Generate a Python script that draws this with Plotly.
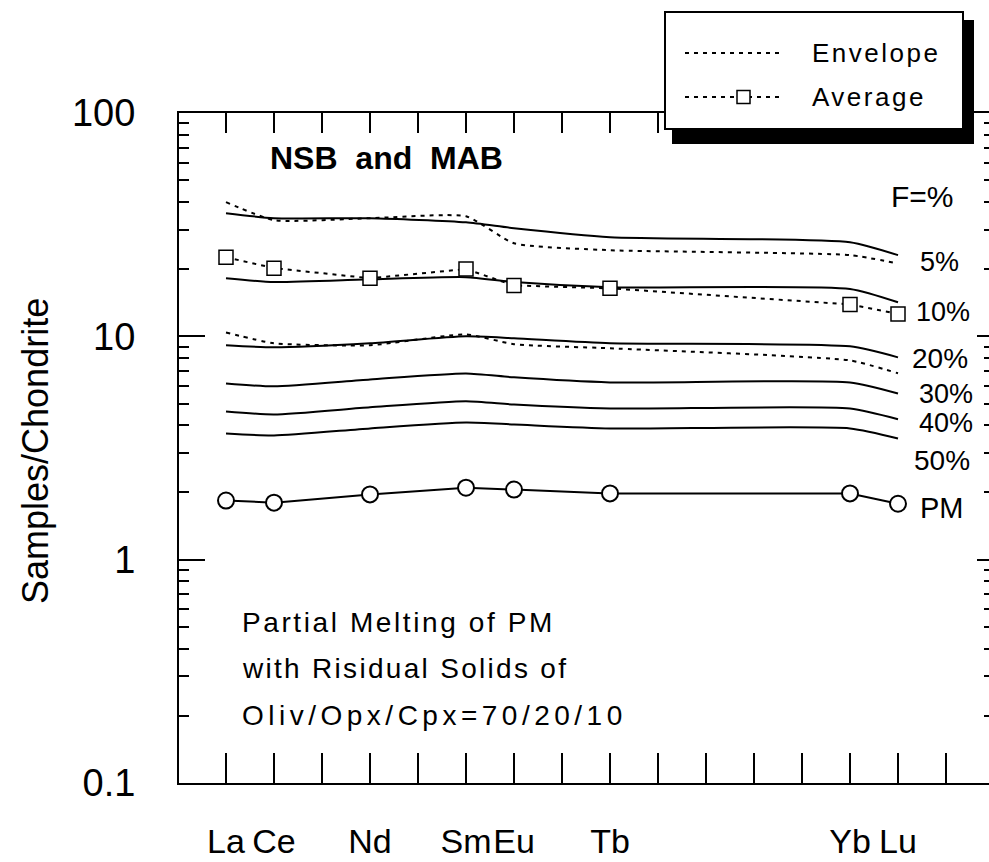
import plotly.graph_objects as go

# ---------------- data ----------------
shown_labels = ["La", "Ce", "", "Nd", "", "Sm", "Eu", "", "Tb", "", "", "", "", "Yb", "Lu", ""]
tick_pos = list(range(1, 17))

ree = ["La", "Ce", "Nd", "Sm", "Eu", "Tb", "Yb", "Lu"]
ree_x = [1, 2, 4, 6, 7, 9, 14, 15]

f5 = [35.6, 33.8, 33.8, 32.4, 30.5, 27.8, 26.4, 23.1]
f10 = [18.2, 17.5, 18.0, 18.4, 17.5, 16.6, 16.3, 14.2]
f20 = [9.12, 8.93, 9.31, 10.0, 9.80, 9.31, 9.02, 8.05]
f30 = [6.15, 5.97, 6.41, 6.82, 6.55, 6.22, 6.22, 5.55]
f40 = [4.61, 4.47, 4.81, 5.12, 4.95, 4.75, 4.75, 4.25]
f50 = [3.67, 3.60, 3.87, 4.11, 4.03, 3.87, 3.87, 3.49]

env_upper = [39.9, 33.1, 33.8, 34.5, 26.1, 24.3, 23.1, 21.2]
env_lower = [10.4, 9.31, 9.12, 10.2, 9.22, 8.84, 7.80, 6.83]
average = [22.6, 20.2, 18.2, 20.0, 16.9, 16.4, 13.9, 12.6]
pm = [1.84, 1.80, 1.96, 2.10, 2.06, 1.98, 1.98, 1.78]

y_tickvals = [0.1, 1, 10, 100]
y_ticktext = ["0.1", "1", "10", "100"]
y_minor = [k * 10 ** e for e in (-1, 0, 1) for k in range(2, 10)]

# ---------------- layout geometry helpers ----------------
W, H = 989, 862
ML, MR, MT, MB = 179, 0, 113, 79
PW, PH = W - ML - MR, H - MT - MB


def px(x):
    return (x - ML) / PW


def py(y):
    return (H - MB - y) / PH


XR = [1 - (226 - ML) / 48.0, 1 + (W - MR - 226) / 48.0]

FONT = "Liberation Sans, Arial, Helvetica, sans-serif"

fig = go.Figure()

dot = "4px,5px"
for ys in (env_upper, env_lower):
    fig.add_trace(go.Scatter(x=ree_x, y=ys, mode="lines",
                             line=dict(color="black", width=2, dash=dot, shape="spline", smoothing=0.5),
                             hoverinfo="skip", showlegend=False))

for ys in (f5, f10, f20, f30, f40, f50):
    fig.add_trace(go.Scatter(x=ree_x, y=ys, mode="lines",
                             line=dict(color="black", width=2, shape="spline", smoothing=0.6),
                             hoverinfo="skip", showlegend=False))

fig.add_trace(go.Scatter(x=ree_x, y=average, mode="lines+markers",
                         line=dict(color="black", width=2, dash=dot),
                         marker=dict(symbol="square", size=14, color="white",
                                     line=dict(color="black", width=1.5)),
                         hoverinfo="skip", showlegend=False))

fig.add_trace(go.Scatter(x=ree_x, y=pm, mode="lines+markers",
                         line=dict(color="black", width=2),
                         marker=dict(symbol="circle", size=16, color="white",
                                     line=dict(color="black", width=2)),
                         hoverinfo="skip", showlegend=False))

# invisible traces anchoring the mirror axes
fig.add_trace(go.Scatter(x=ree_x, y=pm, xaxis="x2", yaxis="y", mode="lines",
                         line=dict(width=0), opacity=0, hoverinfo="skip", showlegend=False))
fig.add_trace(go.Scatter(x=ree_x, y=pm, xaxis="x", yaxis="y2", mode="lines",
                         line=dict(width=0), opacity=0, hoverinfo="skip", showlegend=False))

axis_common = dict(showgrid=False, zeroline=False, showline=True, linecolor="black", linewidth=2,
                   tickcolor="black", tickwidth=2, automargin=False)

fig.update_layout(
    width=W, height=H,
    margin=dict(l=ML, r=MR, t=MT, b=MB, pad=0, autoexpand=False),
    paper_bgcolor="white", plot_bgcolor="white",
    font=dict(family=FONT, color="black"),
    xaxis=dict(range=XR, tickmode="array", tickvals=tick_pos, ticktext=shown_labels,
               ticks="inside", ticklen=30, tickfont=dict(size=34), tickangle=0,
               ticklabelstandoff=27, **axis_common),
    xaxis2=dict(range=XR, overlaying="x", side="top", tickmode="array", tickvals=tick_pos,
                ticks="inside", ticklen=20, showticklabels=False, **axis_common),
    yaxis=dict(type="log", range=[-1, 2], tickmode="array", tickvals=y_tickvals, ticktext=y_ticktext,
               ticks="inside", ticklen=26, tickfont=dict(size=38), ticklabelstandoff=34,
               minor=dict(tickmode="array", tickvals=y_minor, ticks="inside", ticklen=10,
                          tickcolor="black", tickwidth=2, showgrid=False),
               **axis_common),
    yaxis2=dict(type="log", range=[-1, 2], overlaying="y", side="right", tickmode="array",
                tickvals=y_tickvals, ticks="inside", ticklen=12, showticklabels=False,
                minor=dict(tickmode="array", tickvals=y_minor, ticks="inside", ticklen=5,
                           tickcolor="black", tickwidth=2, showgrid=False),
                **axis_common),
)

ann = []


def text(x, y, s, size=26, anchor="center", angle=0):
    ann.append(dict(x=px(x), y=py(y), xref="paper", yref="paper", text=s, showarrow=False,
                    xanchor=anchor, yanchor="middle", textangle=angle, align=anchor,
                    font=dict(size=size, family=FONT, color="black")))


text(35, 451, "Samples/Chondrite", size=36, angle=-90)
text(386, 158, "<b>NSB  and  MAB</b>", size=32)
text(922, 197, "F=%", size=30)
text(939, 262, "5%", size=27)
text(943, 312, "10%", size=27)
text(940, 358, "20%", size=28)
text(946, 394, "30%", size=27)
text(946, 423, "40%", size=27)
text(942, 460, "50%", size=28)
text(942, 508, "PM", size=29)
text(240, 622, "Partial Melting of PM", size=28, anchor="left")
text(240, 668, "with Risidual Solids of", size=28, anchor="left")
text(240, 715, "Oliv/Opx/Cpx=70/20/10", size=28, anchor="left")
text(810, 53, "Envelope", size=26, anchor="left")
text(810, 97, "Average", size=26, anchor="left")

shapes = [
    dict(type="rect", xref="paper", yref="paper", x0=px(672), x1=px(974), y0=py(144), y1=py(20),
         fillcolor="black", line=dict(width=0), layer="above"),
    dict(type="rect", xref="paper", yref="paper", x0=px(665), x1=px(963), y0=py(129), y1=py(12),
         fillcolor="white", line=dict(color="black", width=2), layer="above"),
    dict(type="line", xref="paper", yref="paper", x0=px(685), x1=px(782), y0=py(53), y1=py(53),
         line=dict(color="black", width=2, dash=dot), layer="above"),
    dict(type="line", xref="paper", yref="paper", x0=px(685), x1=px(782), y0=py(97), y1=py(97),
         line=dict(color="black", width=2, dash=dot), layer="above"),
    dict(type="rect", xref="paper", yref="paper", x0=px(737), x1=px(750), y0=py(103.5), y1=py(90.5),
         fillcolor="white", line=dict(color="black", width=1.5), layer="above"),
]

fig.update_layout(annotations=ann, shapes=shapes)

post = """
var gd = document.getElementById('{plot_id}');
var sp = [['Partial', '2.6px'], ['with', '2.3px'], ['Oliv', '4.5px'], ['Envelope', '2.5px'], ['Average', '2.5px']];
gd.querySelectorAll('text.annotation-text').forEach(function (t) {
  var s = t.textContent;
  sp.forEach(function (p) { if (s.indexOf(p[0]) === 0) { t.style.letterSpacing = p[1]; } });
});
"""

fig.write_html("out.html", post_script=post)
